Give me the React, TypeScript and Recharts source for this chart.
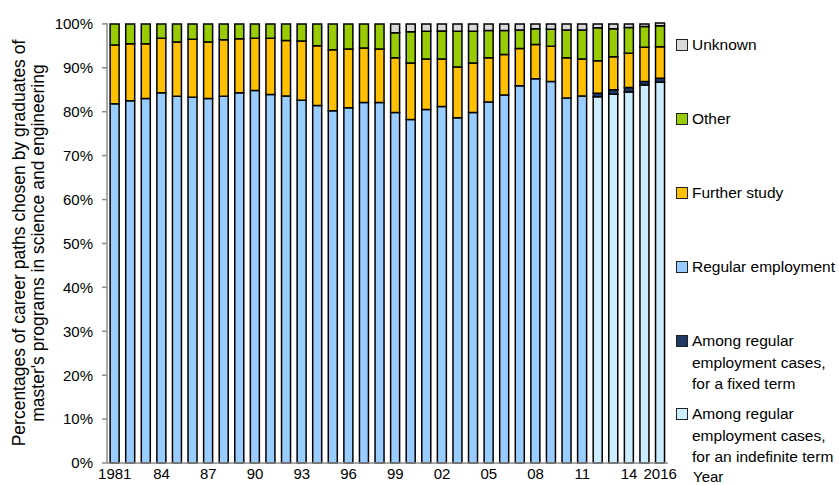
import { BarChart, Bar, XAxis, YAxis } from "recharts";

const years = [
  1981, 1982, 1983, 1984, 1985, 1986, 1987, 1988, 1989, 1990, 1991, 1992,
  1993, 1994, 1995, 1996, 1997, 1998, 1999, 2000, 2001, 2002, 2003, 2004,
  2005, 2006, 2007, 2008, 2009, 2010, 2011, 2012, 2013, 2014, 2015, 2016,
];

// regular employment (not split by term) up to 2011
const regular = [
  81.8, 82.5, 83.0, 84.3, 83.5, 83.3, 83.0, 83.5, 84.3, 84.8, 83.9, 83.6,
  82.6, 81.4, 80.2, 80.9, 82.1, 82.1, 79.8, 78.2, 80.5, 81.2, 78.6, 79.8,
  82.2, 83.8, 85.9, 87.5, 86.9, 83.1, 83.6, null, null, null, null, null,
];

const indefinite = [
  null, null, null, null, null, null, null, null, null, null, null, null,
  null, null, null, null, null, null, null, null, null, null, null, null,
  null, null, null, null, null, null, null, 83.4, 84.0, 84.5, 86.1, 86.7,
];

const fixedTerm = [
  null, null, null, null, null, null, null, null, null, null, null, null,
  null, null, null, null, null, null, null, null, null, null, null, null,
  null, null, null, null, null, null, null, 0.8, 1.0, 1.0, 0.8, 0.9,
];

const furtherStudy = [
  13.4, 13.0, 12.5, 12.4, 12.4, 13.2, 12.9, 12.9, 12.3, 11.9, 12.8, 12.6,
  13.5, 13.6, 13.9, 13.4, 12.4, 12.2, 12.5, 12.9, 11.5, 10.8, 11.6, 11.3,
  10.1, 9.2, 8.5, 7.8, 8.0, 9.2, 8.4, 7.4, 7.5, 7.8, 7.8, 7.2,
];

const other = [
  4.8, 4.5, 4.5, 3.3, 4.1, 3.5, 4.1, 3.6, 3.4, 3.3, 3.3, 3.8,
  3.9, 5.0, 5.9, 5.7, 5.5, 5.7, 5.7, 7.1, 6.3, 6.4, 8.1, 7.2,
  6.2, 5.5, 4.2, 3.6, 3.9, 6.3, 6.6, 7.5, 6.4, 5.9, 4.7, 4.8,
];

const unknown = [
  0, 0, 0, 0, 0, 0, 0, 0, 0, 0, 0, 0,
  0, 0, 0, 0, 0, 0, 2.0, 1.8, 1.7, 1.6, 1.7, 1.7,
  1.5, 1.5, 1.4, 1.1, 1.2, 1.4, 1.4, 0.9, 1.1, 0.8, 0.6, 0.6,
];

const yTicks = [0, 10, 20, 30, 40, 50, 60, 70, 80, 90, 100];
const labelYears = [1981, 1984, 1987, 1990, 1993, 1996, 1999, 2002, 2005, 2008, 2011, 2014, 2016];

const data = years.map((year, i) => ({
  year,
  regular: regular[i],
  indefinite: indefinite[i],
  fixedTerm: fixedTerm[i],
  furtherStudy: furtherStudy[i],
  other: other[i],
  unknown: unknown[i],
}));

const FONT = "'Liberation Sans', Arial, sans-serif";

const legendItems = [
  { color: "#D9D9D9", top: 34, lines: ["Unknown"] },
  { color: "#99CC00", top: 108, lines: ["Other"] },
  { color: "#FFC000", top: 182, lines: ["Further study"] },
  { color: "#99CCFF", top: 256, lines: ["Regular employment"] },
  { color: "#1F3864", top: 330, lines: ["Among regular", "employment cases,", "for a fixed term"] },
  { color: "#CCECFF", top: 403, lines: ["Among regular", "employment cases,", "for an indefinite term"] },
];

const fmtYear = (y: number) => {
  if (!labelYears.includes(y)) return "";
  if (y === 1981 || y === 2016) return String(y);
  return String(y).slice(2);
};

export default function App() {
  const barProps = {
    stackId: "a",
    stroke: "#000",
    strokeWidth: 1.5,
    isAnimationActive: false,
  };
  return (
    <div
      style={{
        position: "absolute",
        left: 0,
        top: 0,
        width: 839,
        height: 485,
        background: "#fff",
        fontFamily: FONT,
        overflow: "hidden",
      }}
    >
      <BarChart
        width={839}
        height={485}
        data={data}
        margin={{ top: 23, right: 171, left: 0, bottom: 0 }}
        barCategoryGap="20%"
      >
        <XAxis
          dataKey="year"
          interval={0}
          tickLine={false}
          tickSize={0}
          tickMargin={5}
          axisLine={{ stroke: "#8c8c8c", strokeWidth: 1.5 }}
          tick={{ fill: "#000", fontSize: 15, fontFamily: FONT }}
          tickFormatter={fmtYear}
          height={22}
        />
        <YAxis
          width={107}
          domain={[0, 100]}
          ticks={yTicks}
          interval={0}
          tickSize={5}
          tickMargin={9}
          axisLine={{ stroke: "#8c8c8c", strokeWidth: 1.5 }}
          tickLine={{ stroke: "#8c8c8c", strokeWidth: 1.5 }}
          tick={{ fill: "#000", fontSize: 15, fontFamily: FONT }}
          tickFormatter={(v: number) => `${v}%`}
        />
        <Bar dataKey="regular" fill="#99CCFF" {...barProps} />
        <Bar dataKey="indefinite" fill="#CCECFF" {...barProps} />
        <Bar dataKey="fixedTerm" fill="#1F3864" {...barProps} />
        <Bar dataKey="furtherStudy" fill="#FFC000" {...barProps} />
        <Bar dataKey="other" fill="#99CC00" {...barProps} />
        <Bar dataKey="unknown" fill="#D9D9D9" {...barProps} />
      </BarChart>

      <svg
        width={839}
        height={485}
        style={{ position: "absolute", left: 0, top: 0, pointerEvents: "none" }}
      >
        <text
          transform="translate(25,243) rotate(-90)"
          textAnchor="middle"
          fontSize={17.5}
          fontFamily={FONT}
          fill="#000"
        >
          <tspan x={0} dy={0}>Percentages of career paths chosen by graduates of</tspan>
          <tspan x={0} dy={18.5}>master's programs in science and engineering</tspan>
        </text>
        <text x={693} y={482} fontSize={15} fontFamily={FONT} fill="#000">
          Year
        </text>
      </svg>

      {legendItems.map((item) => (
        <div
          key={item.color}
          style={{
            position: "absolute",
            left: 676,
            top: item.top,
            display: "flex",
            alignItems: "flex-start",
            fontSize: 15.5,
            lineHeight: "21.5px",
            color: "#000",
          }}
        >
          <span
            style={{
              width: 10,
              height: 10,
              marginTop: 5,
              marginRight: 4,
              background: item.color,
              border: "1.5px solid #222",
              flexShrink: 0,
            }}
          />
          <span style={{ whiteSpace: "nowrap" }}>
            {item.lines.map((l) => (
              <div key={l}>{l}</div>
            ))}
          </span>
        </div>
      ))}
    </div>
  );
}
